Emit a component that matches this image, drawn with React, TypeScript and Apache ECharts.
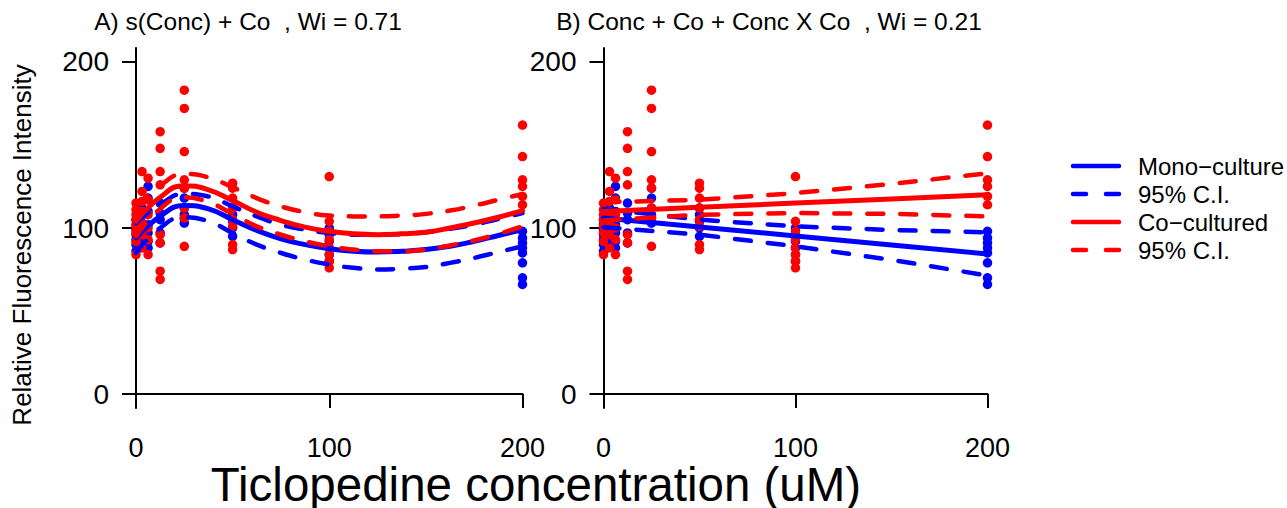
import React, { useEffect, useRef } from "react";
import * as echarts from "echarts";

// Concentrations (uM)
const conc = [0, 3.125, 6.25, 12.5, 25, 50, 100, 200];
// Observed values per concentration
const monoValues: number[][] = [
  [86, 90, 93, 96, 99, 102, 105],
  [90, 94, 98, 103, 108, 112],
  [88, 92, 97, 102, 110, 118, 125],
  [91, 97, 105, 109, 115],
  [103, 106, 108, 112, 118, 124],
  [95, 100, 104, 108, 112],
  [80, 84, 88, 92, 96, 100],
  [66, 70, 79, 85, 88, 91, 94, 98],
];
const coValues: number[][] = [
  [84, 92, 97, 101, 105, 108, 111, 115],
  [88, 96, 103, 110, 116, 122, 134],
  [84, 93, 100, 108, 117, 130],
  [69, 74, 91, 96, 126, 134, 148, 158],
  [89, 106, 112, 124, 129, 146, 172, 183],
  [87, 90, 101, 105, 112, 118, 124, 127],
  [76, 80, 84, 88, 93, 98, 104, 131],
  [114, 119, 125, 129, 143, 162],
];

// Panel A: smooth fit
const gamX = [0, 12.5, 25, 37.5, 50, 62.5, 75, 87.5, 100, 112.5, 125, 137.5, 150, 162.5, 175, 187.5, 200];
const gamMonoFit = [94, 107, 113.5, 111.5, 105, 98.5, 93.5, 90, 87.5, 86, 85.5, 86, 87, 89, 92, 95.5, 99];
const gamMonoUp = [103, 114, 120.5, 119, 113, 107, 102, 99, 97, 96, 96, 96.5, 97.5, 99.5, 102, 105.5, 109];
const gamMonoLo = [85, 100, 106.5, 104, 97, 90, 85, 81, 78, 76, 75, 75.5, 76.5, 79, 82, 85.5, 89];
const gamCoFit = [104, 118.5, 125.5, 123, 116.5, 109.5, 104.5, 100.5, 98, 96.5, 96, 96.5, 97.5, 100, 103, 106.5, 110.5];
const gamCoUp = [113, 125.5, 132.5, 130.5, 124.5, 118, 113, 109.5, 107.5, 107, 107, 107.5, 108.5, 110.5, 113.5, 117, 120.5];
const gamCoLo = [95, 111.5, 118.5, 115.5, 108.5, 101, 96, 92, 89, 87, 86, 86, 87, 89.5, 92.5, 96.5, 101];

// Panel B: linear fit
const linX = [0, 50, 100, 150, 200];
const linMonoFit = [106, 100.6, 95.2, 89.8, 84.4];
const linMonoUp = [111.5, 105, 101, 98.8, 97.4];
const linMonoLo = [100.5, 96, 89, 80.8, 71.4];
const linCoFit = [110, 112.5, 115, 117.5, 120];
const linCoUp = [115.5, 117, 121, 126.5, 133];
const linCoLo = [104.5, 108, 109, 108.5, 107];

const yTicks = [0, 100, 200];
const panelTitles = ["A) s(Conc) + Co  , Wi = 0.71", "B) Conc + Co + Conc X Co  , Wi = 0.21"];
const legendItems = [
  { name: "Mono\u2212culture", color: "#0000FF", dashed: false },
  { name: "95% C.I.", color: "#0000FF", dashed: true },
  { name: "Co\u2212cultured", color: "#FF0000", dashed: false },
  { name: "95% C.I.", color: "#FF0000", dashed: true },
];

const BLUE = "#0000FF";
const RED = "#FF0000";
const FONT = "Liberation Sans, Arial, sans-serif";

function pts(vals: number[][]) {
  const out: number[][] = [];
  conc.forEach((c, i) => vals[i].forEach((v) => out.push([c, v])));
  return out;
}
function zip(xs: number[], ys: number[]) {
  return xs.map((x, i) => [x, ys[i]]);
}

export default function App() {
  const ref = useRef<HTMLDivElement>(null);
  useEffect(() => {
    if (!ref.current) return;
    const chart = echarts.init(ref.current, undefined, { renderer: "svg" });
    const grids = [
      { left: 136, width: 386.5, top: 48, height: 360 },
      { left: 603.5, width: 384, top: 48, height: 360 },
    ];
    const xAxes = grids.map((_, i) => ({
      type: "value",
      gridIndex: i,
      min: 0,
      max: 200,
      interval: 100,
      axisLine: { show: true, onZero: true, lineStyle: { color: "#000", width: 2 } },
      axisTick: { show: true, length: 14, lineStyle: { color: "#000", width: 2 } },
      axisLabel: { fontSize: 27, color: "#000", margin: 26, fontFamily: FONT, lineHeight: 27 },
      splitLine: { show: false },
    }));
    const yAxes = grids.map((_, i) => ({
      type: "value",
      gridIndex: i,
      min: -8.4,
      max: 208.4,
      axisLine: { show: true, onZero: false, lineStyle: { color: "#000", width: 2 } },
      axisTick: { show: true, length: 14, customValues: yTicks, lineStyle: { color: "#000", width: 2 } },
      axisLabel: { fontSize: 28, color: "#000", margin: 27, customValues: yTicks, fontFamily: FONT },
      splitLine: { show: false },
    }));

    const scatter = (data: number[][], color: string, idx: number) => ({
      type: "scatter",
      xAxisIndex: idx,
      yAxisIndex: idx,
      data,
      symbol: "circle",
      symbolSize: 9.5,
      itemStyle: { color, opacity: 1 },
      silent: true,
    });
    const line = (data: number[][], color: string, idx: number, dashed: boolean, smooth: boolean) => ({
      type: "line",
      xAxisIndex: idx,
      yAxisIndex: idx,
      data,
      showSymbol: false,
      symbol: "none",
      smooth: smooth ? 0.5 : false,
      lineStyle: {
        color,
        width: dashed ? 4.5 : 5,
        type: dashed ? [16, 17] : "solid",
        cap: "round",
      },
      silent: true,
    });

    const series: any[] = [];
    [0, 1].forEach((i) => {
      series.push(scatter(pts(monoValues), BLUE, i));
      series.push(scatter(pts(coValues), RED, i));
    });
    series.push(line(zip(gamX, gamMonoFit), BLUE, 0, false, true));
    series.push(line(zip(gamX, gamMonoUp), BLUE, 0, true, true));
    series.push(line(zip(gamX, gamMonoLo), BLUE, 0, true, true));
    series.push(line(zip(gamX, gamCoFit), RED, 0, false, true));
    series.push(line(zip(gamX, gamCoUp), RED, 0, true, true));
    series.push(line(zip(gamX, gamCoLo), RED, 0, true, true));
    series.push(line(zip(linX, linMonoFit), BLUE, 1, false, false));
    series.push(line(zip(linX, linMonoUp), BLUE, 1, true, false));
    series.push(line(zip(linX, linMonoLo), BLUE, 1, true, false));
    series.push(line(zip(linX, linCoFit), RED, 1, false, false));
    series.push(line(zip(linX, linCoUp), RED, 1, true, false));
    series.push(line(zip(linX, linCoLo), RED, 1, true, false));

    const graphic: any[] = [
      {
        type: "text",
        x: 248,
        y: 21,
        style: { text: panelTitles[0], fontSize: 24.5, fontFamily: FONT, fill: "#000", align: "center", verticalAlign: "middle" },
      },
      {
        type: "text",
        x: 769,
        y: 21,
        style: { text: panelTitles[1], fontSize: 24.5, fontFamily: FONT, fill: "#000", align: "center", verticalAlign: "middle" },
      },
      {
        type: "text",
        x: 536,
        y: 484,
        style: { text: "Ticlopedine concentration (uM)", fontSize: 47.5, lineHeight: 44, fontFamily: FONT, fill: "#000", align: "center", verticalAlign: "middle" },
      },
      {
        type: "text",
        x: 22,
        y: 245,
        rotation: Math.PI / 2,
        style: { text: "Relative Fluorescence Intensity", fontSize: 26, fontFamily: FONT, fill: "#000", align: "center", verticalAlign: "middle" },
      },
    ];
    legendItems.forEach((it, k) => {
      const y = 166 + k * 28;
      graphic.push({
        type: "line",
        shape: { x1: 1073, y1: y, x2: 1119, y2: y },
        style: { stroke: it.color, lineWidth: 4.5, lineDash: it.dashed ? [13, 20] : null, lineCap: "round" },
      });
      graphic.push({
        type: "text",
        x: 1138,
        y,
        style: { text: it.name, fontSize: 24, fontFamily: FONT, fill: "#000", verticalAlign: "middle" },
      });
    });

    chart.setOption({
      animation: false,
      backgroundColor: "#fff",
      grid: grids,
      xAxis: xAxes,
      yAxis: yAxes,
      series,
      graphic,
    });
    return () => chart.dispose();
  }, []);
  return <div ref={ref} style={{ position: "fixed", left: 0, top: 0, width: 1287, height: 508 }} />;
}
